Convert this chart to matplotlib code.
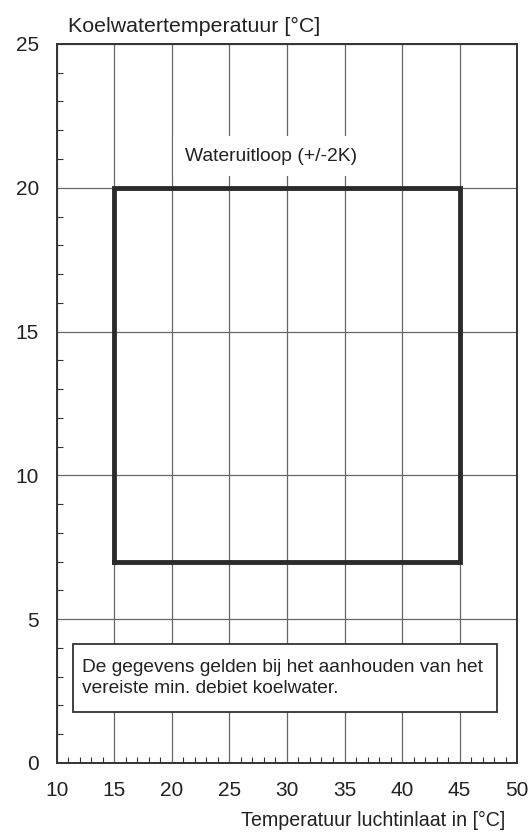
import matplotlib
matplotlib.use("Agg")
import matplotlib.pyplot as plt
from matplotlib.patches import Rectangle
from matplotlib.ticker import MultipleLocator

plt.rcParams["font.family"] = ["Liberation Sans", "DejaVu Sans"]

# operating envelope corners
env_x = [15, 45, 45, 15, 15]
env_y = [7, 7, 20, 20, 7]

x_ticks = [10, 15, 20, 25, 30, 35, 40, 45, 50]
y_ticks = [0, 5, 10, 15, 20, 25]

fig = plt.figure(figsize=(5.3, 8.39), dpi=100)
ax = fig.add_axes([0.1075, 0.0906, 0.868, 0.857])

ax.set_xlim(10, 50)
ax.set_ylim(0, 25)
ax.set_xticks(x_ticks)
ax.set_yticks(y_ticks)
ax.xaxis.set_minor_locator(MultipleLocator(1))
ax.yaxis.set_minor_locator(MultipleLocator(1))
ax.tick_params(which="major", length=0, labelsize=15, pad=13, colors="#222222")
ax.tick_params(which="minor", direction="in", length=4, width=0.8, color="#333333")
ax.grid(True, which="major", color="#666666", linewidth=0.9)
ax.set_axisbelow(True)
for s in ax.spines.values():
    s.set_color("#333333")
    s.set_linewidth(1.4)

ax.plot(env_x, env_y, color="#2b2b2b", linewidth=3.5, solid_joinstyle="miter", zorder=3)

ax.text(28.6, 21.1, "Wateruitloop (+/-2K)", ha="center", va="center", fontsize=13.9,
        color="#222222", zorder=4,
        bbox=dict(boxstyle="square,pad=0.6", fc="white", ec="none"))

# note box
ax.add_patch(Rectangle((11.37, 1.78), 36.86, 2.35, fc="white", ec="#333333", lw=1.3, zorder=4))
ax.text(12.15, 2.95, "De gegevens gelden bij het aanhouden van het\nvereiste min. debiet koelwater.",
        ha="left", va="center", fontsize=13.8, color="#222222", linespacing=1.3, zorder=5)

fig.text(0.128, 0.968, "Koelwatertemperatuur [°C]", ha="left", va="center", fontsize=15.4,
         color="#222222")
fig.text(0.953, 0.022, "Temperatuur luchtinlaat in [°C]", ha="right", va="center",
         fontsize=14.1, color="#222222")

fig.savefig("out.png", dpi=100)
